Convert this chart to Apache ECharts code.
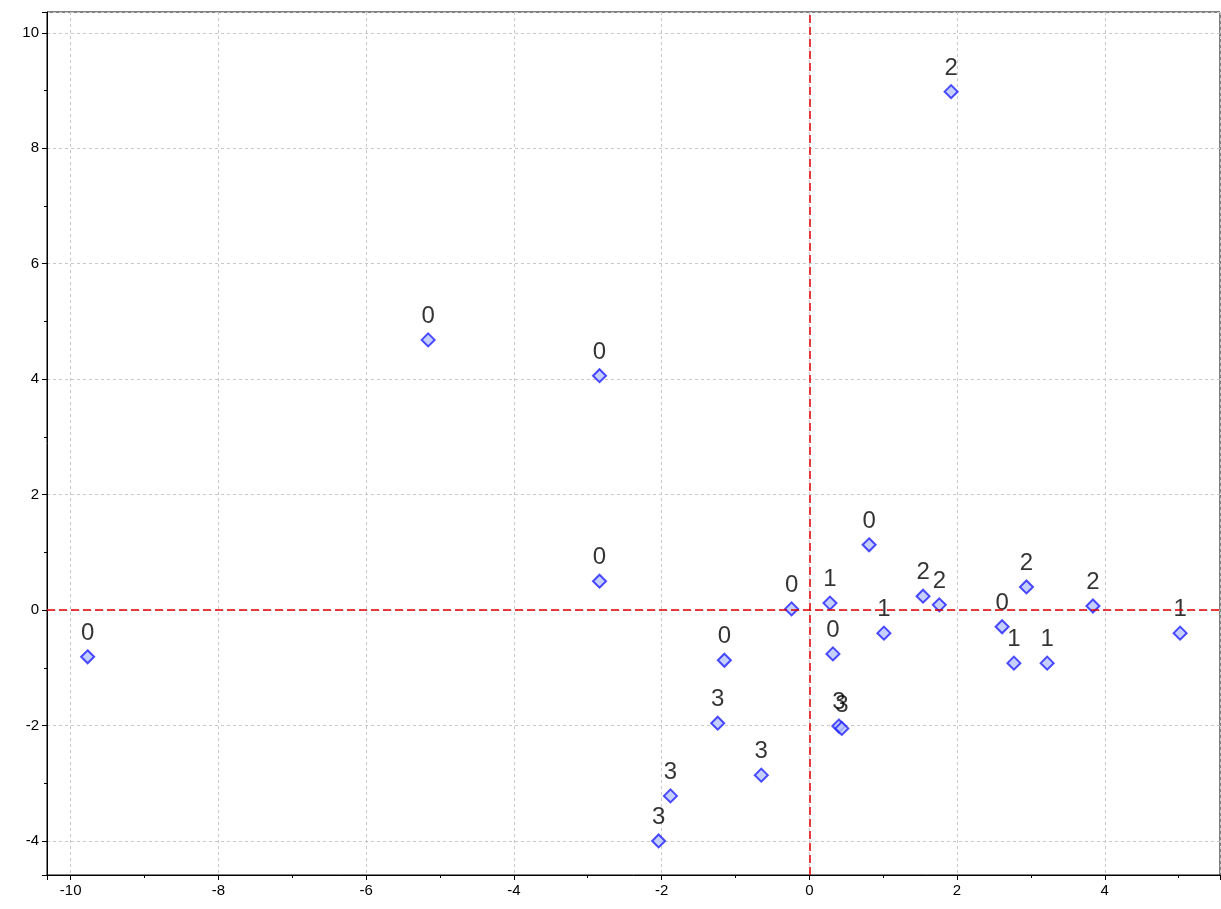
<!DOCTYPE html>
<html>
<head>
<meta charset="utf-8">
<script src="https://cdn.jsdelivr.net/npm/echarts@6/dist/echarts.min.js"></script>
<style>html,body{margin:0;padding:0;background:#fff}#main{width:1221px;height:909px}</style>
</head>
<body>
<div id="main"></div>
<script>
// point coordinates and their group labels
var xValues = [-9.77, -5.16, -2.84, -2.84, -0.24, -1.15, -1.24, -0.65, -1.88, -2.04, 0.28, 0.32, 0.40, 0.44, 0.81, 1.01, 1.54, 1.76, 1.92, 2.61, 2.77, 2.94, 3.22, 3.84, 5.02];
var yValues = [-0.81, 4.68, 4.06, 0.50, 0.02, -0.87, -1.96, -2.86, -3.22, -4.00, 0.12, -0.76, -2.01, -2.05, 1.13, -0.40, 0.24, 0.09, 8.98, -0.29, -0.92, 0.40, -0.92, 0.07, -0.40];
var groups = ["0", "0", "0", "0", "0", "0", "3", "3", "3", "3", "1", "0", "3", "3", "0", "1", "2", "2", "2", "0", "1", "2", "1", "2", "1"];

var points = xValues.map(function (x, i) { return [x, yValues[i], groups[i]]; });

var chart = echarts.init(document.getElementById("main"));
var gridLine = { show: true, lineStyle: { color: "#c8c8c8", type: [3, 3] } };
var axisCommon = {
  type: "value",
  axisLine: { onZero: false, lineStyle: { color: "#000" } },
  axisTick: { inside: false, length: 5, lineStyle: { color: "#000" } },
  minorTick: { show: true, splitNumber: 2, length: 3, lineStyle: { color: "#000" } },
  axisLabel: { color: "#000", fontSize: 15, fontFamily: "Liberation Sans", showMinLabel: false, showMaxLabel: false },
  splitLine: gridLine,
  splitNumber: 8
};
chart.setOption({
  animation: false,
  grid: { left: 47, right: 1, top: 12, bottom: 34, show: true, borderColor: "#000", borderWidth: 1 },
  xAxis: Object.assign({}, axisCommon, { min: -10.32, max: 5.56 }),
  yAxis: Object.assign({}, axisCommon, { min: -4.59, max: 10.36 }),
  series: [{
    type: "scatter",
    data: points,
    symbol: "diamond",
    symbolSize: 13,
    itemStyle: { color: "#b8c4ff", borderColor: "#2020ff", borderWidth: 2 },
    label: {
      show: true, position: "top", distance: 4,
      formatter: function (p) { return p.data[2]; },
      color: "#000", fontSize: 24, fontFamily: "Liberation Sans"
    },
    markLine: {
      silent: true, symbol: "none", label: { show: false },
      lineStyle: { color: "#e00000", type: [8, 4], width: 1.5 },
      data: [{ xAxis: 0 }, { yAxis: 0 }]
    }
  }]
});
</script>
</body>
</html>
